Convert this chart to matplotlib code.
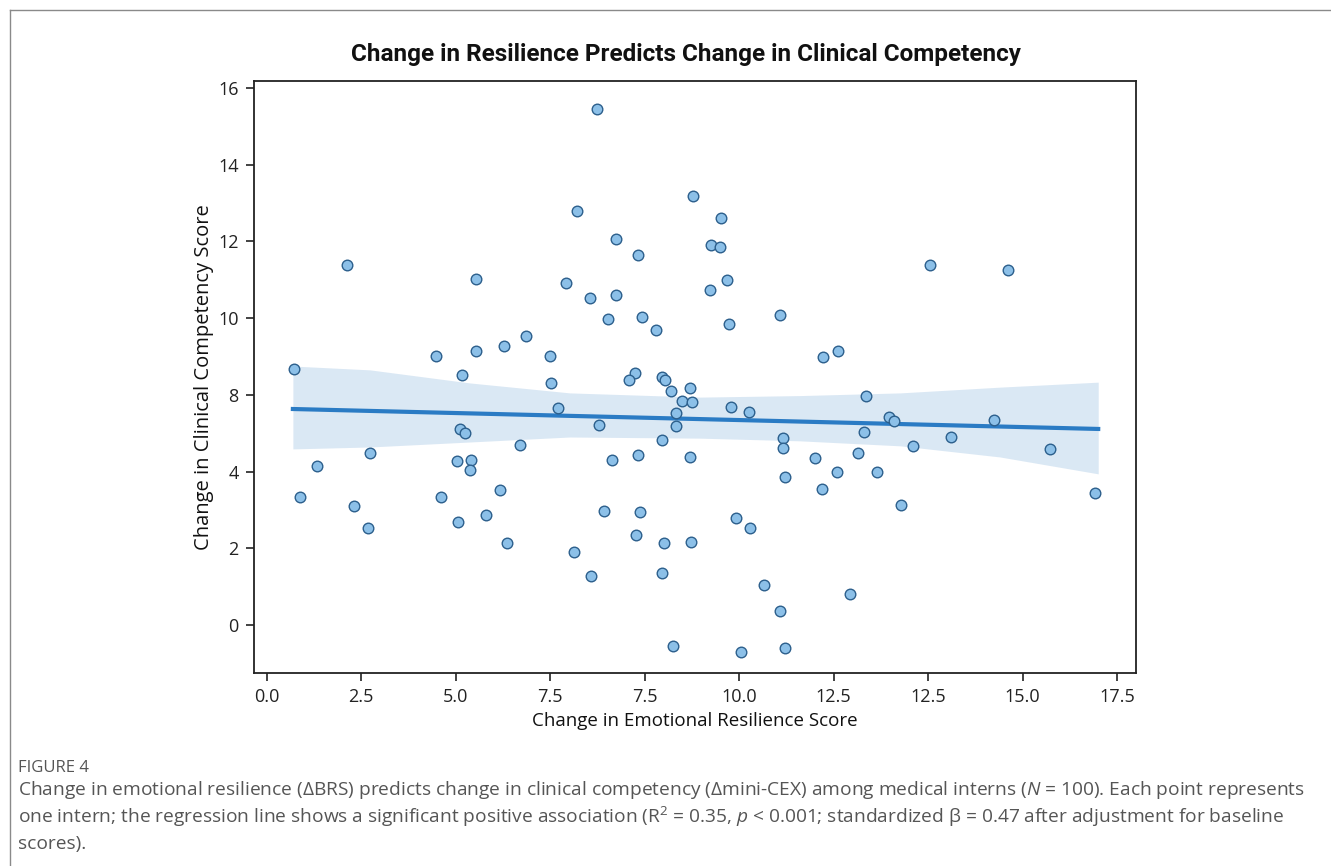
import matplotlib
matplotlib.use("Agg")
import matplotlib.pyplot as plt
from matplotlib import font_manager
from matplotlib.lines import Line2D
import numpy as np

# values, in axis position units
# (x: one tick step = 2.5, y: one tick step = 2, counted from the first tick)
resilience = [8.74, 11.27, 8.20, 9.24, 9.83, 2.12, 5.54, 7.93, 8.55, 9.24,
              9.03, 9.93, 10.30, 6.85, 6.27, 5.53, 4.48, 7.50, 0.71, 5.16,
              9.73, 9.59, 10.47, 10.54, 7.53, 12.02, 11.75, 11.99, 12.19, 11.74,
              13.58, 12.22, 17.54, 19.61, 15.12, 14.72, 10.69, 11.20, 10.99, 11.26,
              7.71, 10.83, 5.11, 5.24, 8.78, 10.82, 6.70, 10.47, 2.73, 1.32,
              5.04, 5.40, 5.38, 9.13, 9.83, 11.19, 0.87, 4.60, 2.30, 6.17,
              5.80, 5.07, 2.67, 6.36, 8.13, 8.92, 9.87, 9.77, 10.52, 11.23,
              8.59, 10.47, 10.75, 12.29, 12.75, 15.86, 16.46, 16.60, 19.24, 13.65,
              13.65, 15.79, 17.10, 18.11, 20.72, 14.51, 15.65, 15.09, 16.15, 13.72,
              14.69, 16.79, 21.92, 12.41, 12.78, 13.15, 15.43, 13.59, 12.55, 13.71]
competency = [13.46, 11.18, 10.80, 10.05, 9.64, 9.39, 9.03, 8.91, 8.53, 8.60,
              7.97, 8.02, 7.68, 7.54, 7.27, 7.14, 7.01, 7.01, 6.66, 6.52,
              6.56, 6.39, 6.47, 6.39, 6.30, 10.60, 9.91, 9.84, 8.99, 8.73,
              8.07, 7.84, 9.38, 9.25, 7.15, 6.98, 6.11, 6.17, 5.85, 5.81,
              5.66, 5.53, 5.12, 5.01, 5.21, 5.18, 4.70, 4.81, 4.48, 4.14,
              4.28, 4.29, 4.04, 4.29, 4.44, 4.38, 3.33, 3.33, 3.10, 3.53,
              2.87, 2.69, 2.52, 2.14, 1.90, 2.98, 2.95, 2.35, 2.13, 2.17,
              1.29, 1.35, -0.55, 5.68, 5.56, 5.97, 5.43, 5.32, 5.34, 4.88,
              4.61, 5.04, 4.66, 4.90, 4.58, 4.34, 4.48, 4.00, 3.99, 3.86,
              3.54, 3.12, 3.43, 2.80, 2.54, 1.04, 0.81, 0.37, -0.71, -0.59]

# fitted line and its confidence band as drawn
fit_x = [0.69, 22.0]
fit_y = [5.63, 5.11]
band_x = [0.69, 2.73, 5.37, 8.02, 11.46, 14.11, 16.76, 19.40, 22.0]
band_hi = [6.75, 6.65, 6.31, 6.05, 5.94, 5.98, 6.05, 6.20, 6.33]
band_lo = [4.59, 4.64, 4.77, 4.90, 4.87, 4.80, 4.67, 4.38, 3.94]

x_tick_labels = ["0.0", "2.5", "5.0", "7.5", "7.5", "10.0", "12.5", "12.5", "15.0", "17.5"]
y_tick_labels = ["0", "2", "4", "8", "10", "12", "14", "16"]

names = {f.name for f in font_manager.fontManager.ttflist}
title_font = "Liberation Sans Narrow" if "Liberation Sans Narrow" in names else "Roboto"

plt.rcParams['font.family'] = ['Open Sans', 'DejaVu Sans']
plt.rcParams['mathtext.fontset'] = 'custom'
plt.rcParams['mathtext.rm'] = 'Open Sans'
plt.rcParams['mathtext.it'] = 'Open Sans:italic'

fig = plt.figure(figsize=(13.31, 8.66), dpi=100)
ax = fig.add_axes([0.1908, 0.2229, 0.6627, 0.6836])

ax.fill_between(band_x, band_lo, band_hi, color="#2878c0", alpha=0.17, linewidth=0, zorder=1)
ax.plot(fit_x, fit_y, color="#2a7bc4", lw=3, zorder=2)
ax.scatter(resilience, competency, s=58, facecolor="#8cc0e8", edgecolor="#2c5f8c",
           linewidth=1.0, zorder=3)

ax.set_xlim(-0.34, 23.0)
ax.set_ylim(-1.25, 14.18)
ax.set_xticks(np.arange(len(x_tick_labels)) * 2.5, x_tick_labels)
ax.set_yticks(np.arange(len(y_tick_labels)) * 2, y_tick_labels)
ax.tick_params(length=6, width=1.2, labelsize=13, colors="#222222", pad=5)
for s in ax.spines.values():
    s.set_linewidth(1.3)
    s.set_color("#222222")

ax.set_xlabel("Change in Emotional Resilience Score", fontsize=13.5, color="#111111", labelpad=4)
ax.set_ylabel("Change in Clinical Competency Score", fontsize=14.5, color="#111111", labelpad=3)

fig.text(0.5154, 0.9365, "Change in Resilience Predicts Change in Clinical Competency",
         ha="center", va="center", fontsize=17.5, fontweight="bold", color="#111111",
         family=[title_font, 'DejaVu Sans'])

# page frame
fig.add_artist(Line2D([10 / 1331, 1], [1 - 10 / 866] * 2, transform=fig.transFigure,
                      color="#8a8a8a", lw=1))
fig.add_artist(Line2D([10 / 1331] * 2, [0, 1 - 10 / 866], transform=fig.transFigure,
                      color="#8a8a8a", lw=1))

cap = "#555555"
fig.text(0.0135, 0.1132, "FIGURE 4", fontsize=12, color=cap, va="center")
fig.text(0.0135, 0.0878,
         "Change in emotional resilience (ΔBRS) predicts change in clinical competency "
         "(Δmini-CEX) among medical interns ($N$ = 100). Each point represents",
         fontsize=13.8, color=cap, va="center")
fig.text(0.0135, 0.0566,
         "one intern; the regression line shows a significant positive association "
         "(R$^2$ = 0.35, $p$ < 0.001; standardized β = 0.47 after adjustment for baseline",
         fontsize=13.8, color=cap, va="center")
fig.text(0.0135, 0.0254, "scores).", fontsize=13.8, color=cap, va="center")

fig.savefig("out.png", dpi=100)
